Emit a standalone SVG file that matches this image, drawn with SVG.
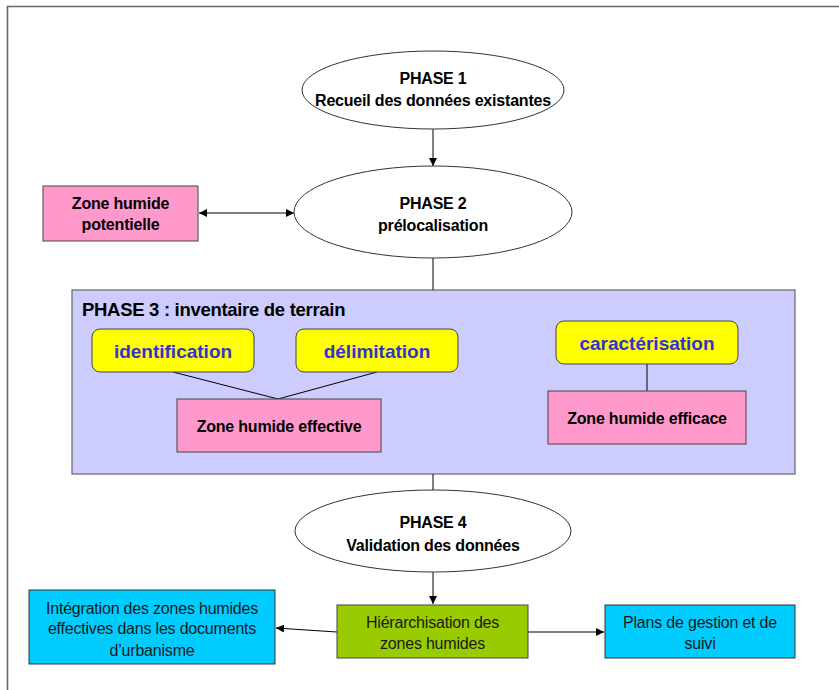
<svg xmlns="http://www.w3.org/2000/svg" width="839" height="690" viewBox="0 0 839 690">
<defs>
<marker id="ah" viewBox="0 0 10 10" refX="10" refY="5" markerWidth="8" markerHeight="8" markerUnits="userSpaceOnUse" orient="auto-start-reverse">
<path d="M0,0 L10,5 L0,10 z" fill="#000"/>
</marker>
<style>
text{font-family:"Liberation Sans",Arial,sans-serif;text-anchor:middle;fill:#000}
.b{font-weight:bold;font-size:16px;letter-spacing:-0.2px}
.r{font-size:16px;fill:#1a1a1a;letter-spacing:-0.2px}
.y{font-weight:bold;font-size:19px;fill:#3333cc}
.ell{fill:#fff;stroke:#333;stroke-width:1}
.pink{fill:#ff99cc;stroke:#444;stroke-width:1}
.yel{fill:#ffff00;stroke:#444;stroke-width:1}
.cyan{fill:#00ccff;stroke:#333;stroke-width:1}
.grn{fill:#99cc00;stroke:#444;stroke-width:1}
.ln{stroke:#000;stroke-width:1;fill:none}
.arr{stroke:#000;stroke-width:1;fill:none;marker-end:url(#ah)}
</style>
</defs>
<rect width="839" height="690" fill="#fff"/>
<path d="M7.5,700 L7.5,6.5 L850,6.5" fill="none" stroke="#666" stroke-width="1.6"/>

<g id="phase3">
<rect x="72" y="290" width="723" height="184" fill="#ccccff" stroke="#666" stroke-width="1.2"/>
<text x="82" y="316" style="text-anchor:start;font-weight:bold;font-size:18.5px;letter-spacing:-0.3px">PHASE 3 : inventaire de terrain</text>
</g>

<g id="connectors">
<line class="arr" x1="433" y1="129" x2="433" y2="166"/>
<line class="arr" x1="199" y1="213" x2="294" y2="213" style="marker-start:url(#ah)"/>
<line class="ln" x1="433" y1="258" x2="433" y2="290"/>
<line class="ln" x1="173" y1="372" x2="278" y2="399"/>
<line class="ln" x1="377" y1="372" x2="278" y2="399"/>
<line class="ln" x1="647" y1="364" x2="647" y2="391"/>
<line class="ln" x1="433" y1="474" x2="433" y2="490"/>
<line class="arr" x1="433" y1="572" x2="433" y2="604"/>
<line class="arr" x1="528" y1="632" x2="604" y2="632"/>
<line class="arr" x1="337" y1="632" x2="276" y2="628"/>
</g>

<g id="phase1">
<ellipse class="ell" cx="433" cy="90" rx="131" ry="39"/>
<text class="b" x="433" y="84">PHASE 1</text>
<text class="b" x="433" y="106">Recueil des données existantes</text>
</g>

<g id="phase2">
<ellipse class="ell" cx="433" cy="212" rx="139" ry="46"/>
<text class="b" x="433" y="209">PHASE 2</text>
<text class="b" x="433" y="231">prélocalisation</text>
</g>

<g id="zh-potentielle">
<rect class="pink" x="43" y="186" width="155" height="55"/>
<text class="b" x="120.5" y="209">Zone humide</text>
<text class="b" x="120.5" y="230">potentielle</text>
</g>

<g id="identification">
<rect class="yel" x="92" y="329" width="162" height="43" rx="8"/>
<text class="y" x="173" y="358">identification</text>
</g>

<g id="delimitation">
<rect class="yel" x="296" y="329" width="162" height="43" rx="8"/>
<text class="y" x="377" y="358">délimitation</text>
</g>

<g id="caracterisation">
<rect class="yel" x="556" y="321" width="182" height="43" rx="8"/>
<text class="y" x="647" y="350">caractérisation</text>
</g>

<g id="zh-effective">
<rect class="pink" x="177" y="399" width="204" height="53"/>
<text class="b" x="279" y="432">Zone humide effective</text>
</g>

<g id="zh-efficace">
<rect class="pink" x="548" y="391" width="198" height="53"/>
<text class="b" x="647" y="424">Zone humide efficace</text>
</g>

<g id="phase4">
<ellipse class="ell" cx="433" cy="531" rx="138" ry="41"/>
<text class="b" x="433" y="528">PHASE 4</text>
<text class="b" x="433" y="551">Validation des données</text>
</g>

<g id="hierarchisation">
<rect class="grn" x="337" y="605" width="191" height="53"/>
<text class="r" x="432.5" y="628">Hiérarchisation des</text>
<text class="r" x="432.5" y="649">zones humides</text>
</g>

<g id="plans">
<rect class="cyan" x="605" y="605" width="190" height="53"/>
<text class="r" x="700" y="628">Plans de gestion et de</text>
<text class="r" x="700" y="649">suivi</text>
</g>

<g id="integration">
<rect class="cyan" x="29" y="590" width="246" height="74"/>
<text class="r" x="152" y="614">Intégration des zones humides</text>
<text class="r" x="152" y="634">effectives dans les documents</text>
<text class="r" x="152" y="656">d’urbanisme</text>
</g>
</svg>
